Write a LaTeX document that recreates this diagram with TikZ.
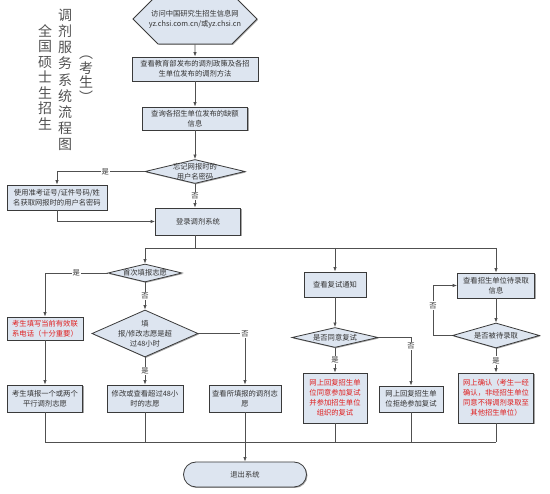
\documentclass[tikz,border=0pt]{standalone}
\usepackage{fontspec}
\newfontfamily\cjk{Noto Sans CJK SC}
\usetikzlibrary{shapes.geometric,shapes.misc,arrows.meta,shadows}
\definecolor{boxfill}{HTML}{DDE5F0}
\definecolor{edge}{HTML}{3A3A3A}
\definecolor{linec}{HTML}{505050}
\definecolor{txt}{HTML}{333333}
\definecolor{redtxt}{HTML}{E02020}
\tikzset{
  base/.style={draw=edge, line width=0.8pt, fill=boxfill, inner sep=1pt, align=center,
    font=\cjk\fontsize{7.3}{10}\selectfont, text=txt,
    drop shadow={shadow xshift=1pt, shadow yshift=-1pt, fill=gray!70, opacity=1}},
  box/.style={base, rectangle},
  redbox/.style={box, text=redtxt},
  dia/.style={base, diamond, inner sep=0pt},
  tx/.style={align=center, font=\cjk\fontsize{7.3}{10}\selectfont, text=txt, inner sep=0pt},
  lab/.style={font=\cjk\fontsize{7.3}{9}\selectfont, text=txt, fill=white, inner sep=1pt},
  conn/.style={draw=linec, line width=0.8pt},
  arr/.style={conn, -{Latex[length=4.5pt,width=3.5pt]}},
  title/.style={font=\cjk\fontsize{14}{16.2}\selectfont, text=txt!85, align=center, inner sep=0pt},
}
\begin{document}
\begin{tikzpicture}[x=1pt,y=-1pt]
\useasboundingbox (0,0) rectangle (550,494);
% title
\node[title] (t1) at (65,80) {调\\剂\\服\\务\\系\\统\\流\\程\\图};
\node[title, font=\cjk\fontsize{14}{15.5}\selectfont] (t2) at (45,77) {全\\国\\硕\\士\\生\\招\\生};
\node[title, font=\cjk\fontsize{14}{14.5}\selectfont] (t3) at (86,79) {︵\\考\\生\\︶};
% nodes
\node[base, chamfered rectangle, chamfered rectangle xsep=13pt, chamfered rectangle ysep=15pt, minimum width=124, minimum height=30] (hex) at (195,19) {访问中国研究生招生信息网\\yz.chsi.com.cn/或yz.chsi.cn};
\node[box, minimum width=126, minimum height=24] (b2) at (195,69) {查看教育部发布的调剂政策及各招\\生单位发布的调剂方法};
\node[box, minimum width=105, minimum height=23] (b3) at (195,118.5) {查询各招生单位发布的缺额\\信息};
\node[dia, minimum width=100, minimum height=24] (d4) at (195,171.5) {};
\node[tx] at (d4) {忘记网报时的\\用户名密码};
\node[box, minimum width=100, minimum height=25] (b5) at (57,197.5) {使用准考证号/证件号码/姓\\名获取网报时的用户名密码};
\node[box, minimum width=85, minimum height=27] (b6) at (198,221.5) {登录调剂系统};
\node[dia, minimum width=74, minimum height=18] (d7) at (145,273) {};
\node[tx] at (d7) {首次填报志愿};
\node[redbox, minimum width=76, minimum height=23] (b8) at (45,328.5) {考生填写当前有效联\\系电话（十分重要）};
\node[dia, minimum width=106, minimum height=47] (d9) at (145,333.5) {};
\node[tx] at (d9) {填\\报/修改志愿是超\\过48小时};
\node[box, minimum width=75, minimum height=27] (b10) at (45,398.5) {考生填报一个或两个\\平行调剂志愿};
\node[box, minimum width=76, minimum height=27] (b11) at (145,398.5) {修改或查看超过48小\\时的志愿};
\node[box, minimum width=72, minimum height=27] (b12) at (245,398.5) {查看所填报的调剂志\\愿};
\node[box, minimum width=62, minimum height=25] (b13) at (335,284.5) {查看复试通知};
\node[dia, minimum width=86, minimum height=20] (d14) at (335,337.5) {};
\node[tx] at (d14) {是否同意复试};
\node[redbox, minimum width=64, minimum height=50] (b15) at (335,398) {网上回复招生单\\位同意参加复试\\并参加招生单位\\组织的复试};
\node[box, minimum width=64, minimum height=26] (b16) at (411,399) {网上回复招生单\\位拒绝参加复试};
\node[box, minimum width=77, minimum height=25] (b17) at (496,285.5) {查看招生单位待录取\\信息};
\node[dia, minimum width=87, minimum height=25] (d18) at (496,335.5) {};
\node[tx] at (d18) {是否被待录取};
\node[redbox, minimum width=75, minimum height=50] (b19) at (496,398) {网上确认（考生一经\\确认，非经招生单位\\同意不得调剂录取至\\其他招生单位）};
\node[base, rounded rectangle, minimum width=125, minimum height=25] (term) at (245,474.5) {退出系统};
% coordinates
\coordinate (j1) at (195,248);
\coordinate (j2) at (245,442);
\coordinate (c4) at (57,171.5);
\coordinate (c7) at (45,273);
\coordinate (c9) at (245,333.5);
\coordinate (c14) at (411,337.5);
\coordinate (c18) at (433,335.5);
\coordinate (jl) at (45,442);
\coordinate (jr) at (496,442);
% connectors
\draw[arr] (hex) -- (b2);
\draw[arr] (b2) -- (b3);
\draw[arr] (b3) -- (d4);
\draw[arr] (d4.west) -- node[lab, pos=0.45]{是} (c4) -- (b5.north);
\draw[arr] (d4.south) -- node[lab]{否} (b6.north -| d4.south);
\draw[arr] (b5.south) |- (b6.west);
\draw[conn] (b6.south -| j1) -- (j1);
\draw[conn] (d7.north |- j1) -- (b17.north |- j1);
\draw[arr] (d7.north |- j1) -- (d7.north);
\draw[arr] (b13.north |- j1) -- (b13.north);
\draw[arr] (b17.north |- j1) -- (b17.north);
\draw[arr] (d7.west) -- node[lab]{是} (c7) -- (b8.north);
\draw[arr] (d7.south) -- node[lab]{否} (d9.north);
\draw[arr] (d9.east) -- (c9) -- (b12.north);
\node[lab] at (c9) {否};
\draw[arr] (d9.south) -- node[lab]{是} (b11.north);
\draw[arr] (b8.south) -- (b10.north);
\draw[arr] (b13.south) -- (d14.north);
\draw[arr] (d14.east) -- (c14) -- node[lab, pos=0.17]{否} (b16.north);
\draw[arr] (d14.south) -- node[lab]{是} (b15.north);
\draw[arr] (b17.south) -- (d18.north);
\draw[arr] (d18.west) -- (c18) |- node[lab, pos=0.3]{否} (b17.west);
\draw[arr] (d18.south) -- node[lab]{是} (b19.north);
% bottom merge
\draw[conn] (b10.south) -- (jl);
\draw[conn] (b11.south) -- (b11.south |- jl);
\draw[conn] (b12.south) -- (j2);
\draw[conn] (b15.south) -- (b15.south |- jl);
\draw[conn] (b16.south) -- (b16.south |- jl);
\draw[conn] (b19.south) -- (jr);
\draw[conn] (jl) -- (jr);
\draw[arr] (j2) -- (term.north);
\end{tikzpicture}
\end{document}
